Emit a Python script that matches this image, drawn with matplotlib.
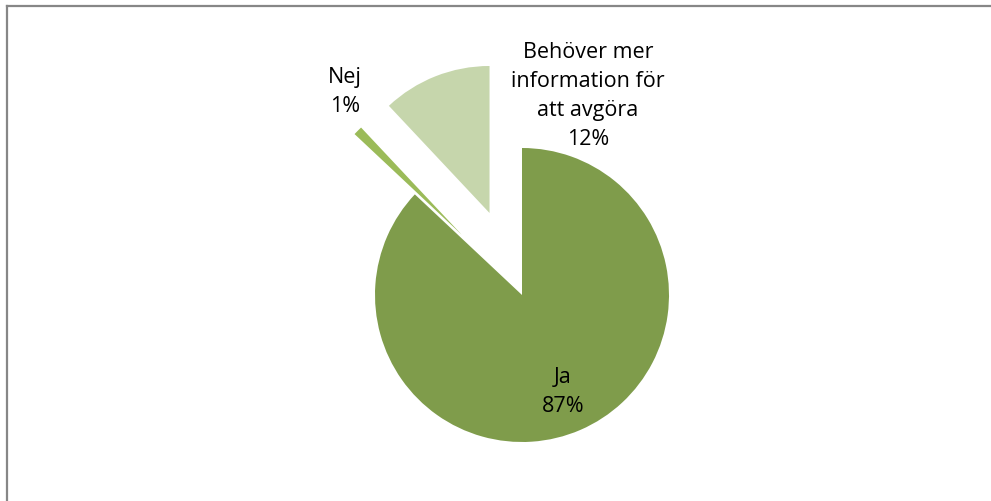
import matplotlib
matplotlib.use('Agg')
import matplotlib.pyplot as plt
from matplotlib.lines import Line2D

# data
labels = ['Ja', 'Nej', 'Behöver mer\ninformation för\natt avgöra']
values = [87, 1, 12]
colors = ['#7F9C4B', '#9BBB59', '#C6D6AC']
explode_frac = [0, 0.58, 0.6]

W, H = 991, 502
fig = plt.figure(figsize=(W / 100, H / 100), dpi=100)
fig.patch.set_facecolor('white')
ax = fig.add_axes([0, 0, 1, 1])

cx, cy, r = 522, H - 296, 147
# explode in matplotlib is in data units, so scale by the radius
explode = [e * r for e in explode_frac]
ax.pie(values, colors=colors, explode=explode, startangle=90,
       counterclock=False, center=(cx, cy), radius=r,
       wedgeprops={'linewidth': 0}, frame=True)
ax.set_xlim(0, W)
ax.set_ylim(0, H)
ax.set_aspect('equal')
ax.axis('off')

# label positions (pixel coords, from top-left)
label_pos = [(563, 392), (345, 92), (588, 96)]
for lab, v, (x, y) in zip(labels, values, label_pos):
    ax.text(x, H - y, f'{lab}\n{v}%', ha='center', va='center',
            fontsize=15.5, family='Open Sans', linespacing=1.5, color='black')

# chart border (top and left edges visible)
fig.add_artist(Line2D([6.5 / W, 1], [1 - 6.5 / H, 1 - 6.5 / H],
                      transform=fig.transFigure, color='#878787', lw=1.6))
fig.add_artist(Line2D([6.5 / W, 6.5 / W], [0, 1 - 6.5 / H],
                      transform=fig.transFigure, color='#878787', lw=1.6))

fig.savefig('out.png', dpi=100, facecolor='white')
